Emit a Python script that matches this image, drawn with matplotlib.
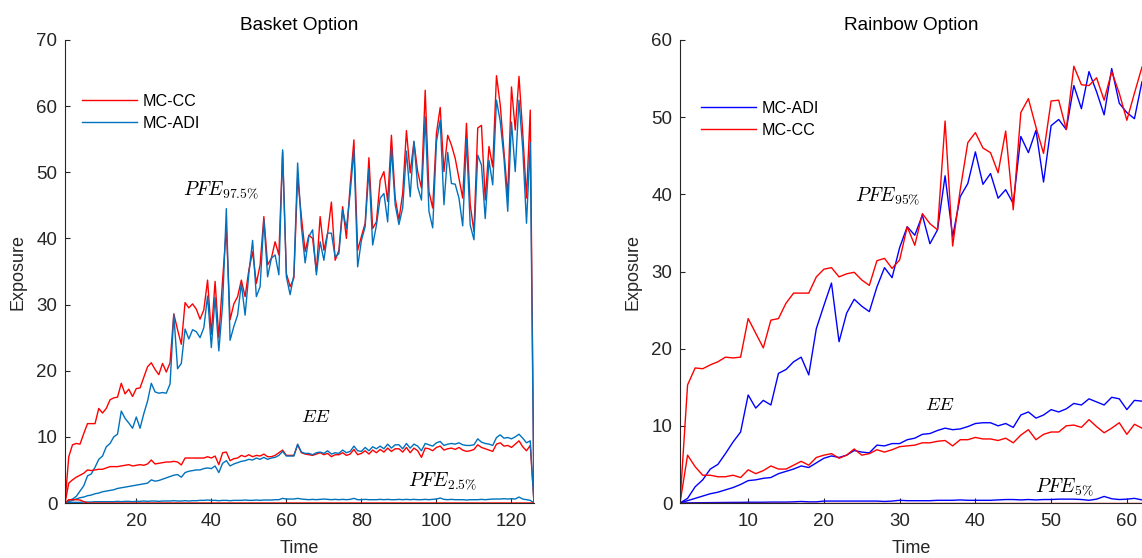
import numpy as np
import matplotlib
matplotlib.use('Agg')
import matplotlib.pyplot as plt

plt.rcParams['font.family'] = ['Liberation Sans', 'DejaVu Sans']
plt.rcParams['mathtext.fontset'] = 'cm'

# ---- Basket option (126 time steps) ----
basket_time = np.arange(1, 127)

basket_pfe_cc = [
    0, 7.0, 8.8, 9.0, 8.9, 10.5, 12.0, 12.0, 12.0, 14.3,
    13.6, 14.3, 15.6, 15.9, 16.0, 18.1, 16.5, 17.2, 16.1, 17.3,
    17.4, 19.0, 20.6, 21.2, 20.2, 19.4, 21.1, 19.8, 21.2, 28.6,
    26.2, 24.0, 30.3, 29.5, 30.1, 29.3, 27.8, 29.2, 33.7, 25.5,
    33.5, 25.0, 33.7, 41.5, 27.7, 30.1, 31.2, 33.7, 31.2, 35.2,
    38.0, 33.2, 36.0, 43.3, 36.0, 37.0, 39.5, 37.5, 53.1, 34.7,
    32.7, 34.0, 49.3, 43.3, 38.0, 40.5, 40.0, 35.0, 43.3, 38.2,
    40.8, 45.5, 36.7, 38.2, 44.8, 40.0, 48.0, 54.9, 38.2, 40.3,
    42.3, 52.2, 41.5, 42.5, 48.8, 50.1, 45.6, 55.6, 46.1, 42.8,
    46.8, 56.3, 49.9, 54.6, 50.1, 47.6, 62.4, 47.1, 44.6, 55.9,
    59.8, 50.1, 55.6, 54.1, 52.1, 49.1, 46.1, 57.4, 45.1, 41.0,
    56.7, 57.1, 45.8, 53.9, 50.8, 64.6, 60.2, 53.1, 46.3, 62.9,
    56.4, 64.5, 55.9, 46.1, 59.4, 0,
]
basket_pfe_adi = [
    0, 0.4, 0.6, 1.0, 1.8, 2.6, 4.1, 4.4, 5.4, 6.6,
    7.1, 8.5, 9.0, 10.0, 10.4, 13.9, 12.8, 12.1, 11.3, 13.0,
    11.3, 13.5, 15.4, 18.1, 16.8, 16.6, 16.7, 16.6, 18.0, 28.5,
    20.3, 21.1, 26.3, 24.8, 26.2, 25.9, 25.0, 26.5, 31.3, 23.5,
    31.1, 23.0, 30.0, 44.5, 24.6, 26.7, 28.4, 33.2, 28.4, 34.7,
    39.7, 31.2, 32.7, 42.8, 34.2, 37.0, 37.5, 34.5, 53.4, 34.2,
    31.5, 34.5, 51.4, 41.8, 36.3, 40.3, 41.3, 34.5, 39.5, 36.7,
    40.8, 40.8, 37.2, 37.7, 44.3, 41.5, 46.8, 53.4, 35.7, 39.7,
    41.8, 50.5, 39.0, 42.0, 46.1, 46.8, 42.5, 53.6, 45.1, 42.1,
    44.6, 53.2, 46.3, 54.7, 47.8, 45.8, 58.4, 44.1, 41.6, 54.6,
    57.9, 45.1, 53.0, 48.3, 48.2, 46.1, 41.9, 55.0, 42.0, 39.8,
    52.6, 51.1, 43.0, 51.8, 48.1, 60.9, 57.7, 52.1, 44.1, 57.6,
    50.1, 60.9, 53.6, 42.3, 54.5, 0,
]
basket_ee_cc = [
    0, 3.0, 3.5, 3.9, 4.2, 4.5, 5.0, 4.9, 5.0, 5.1,
    5.1, 5.3, 5.5, 5.5, 5.5, 5.6, 5.7, 5.8, 5.6, 5.7,
    5.8, 5.7, 5.9, 6.5, 5.9, 6.0, 6.1, 6.2, 6.2, 6.3,
    6.2, 5.75, 6.8, 6.8, 6.8, 6.8, 6.8, 6.8, 7.0, 6.8,
    7.1, 5.8, 7.6, 7.7, 6.4, 6.7, 6.8, 7.2, 7.0, 7.3,
    7.0, 7.2, 7.1, 7.4, 7.0, 7.0, 7.2, 7.6, 8.0, 7.2,
    7.2, 7.2, 8.8, 7.6, 7.4, 7.3, 7.2, 7.4, 7.6, 7.3,
    7.5, 7.0, 7.3, 7.3, 7.6, 7.2, 7.4, 8.1, 7.3, 7.5,
    7.9, 7.4, 8.0, 7.6, 8.1, 7.7, 8.3, 7.8, 8.2, 8.2,
    7.7, 8.4, 7.6, 8.3, 7.9, 6.9, 8.3, 8.2, 7.9, 8.4,
    8.6, 8.0, 8.2, 8.3, 8.1, 8.4, 8.0, 7.8, 7.9, 8.1,
    8.8, 8.4, 8.2, 8.0, 7.8, 8.9, 9.1, 8.6, 8.7, 8.4,
    8.9, 9.4, 8.5, 7.9, 8.7, 0,
]
basket_ee_adi = [
    0, 0.2, 0.4, 0.6, 0.8, 0.9, 1.1, 1.2, 1.4, 1.5,
    1.7, 1.8, 1.9, 2.0, 2.2, 2.3, 2.4, 2.5, 2.6, 2.7,
    2.8, 2.9, 3.0, 3.5, 3.3, 3.4, 3.6, 3.8, 4.0, 4.2,
    4.3, 3.9, 4.6, 4.8, 4.9, 5.0, 5.0, 5.2, 5.3, 5.2,
    5.6, 4.6, 6.0, 6.4, 5.6, 5.9, 6.1, 6.3, 6.4, 6.6,
    6.5, 6.8, 6.6, 6.9, 6.6, 6.8, 6.9, 7.2, 7.8, 7.1,
    7.1, 7.1, 8.9, 7.7, 7.5, 7.5, 7.3, 7.6, 7.7, 7.5,
    7.9, 7.4, 7.6, 7.5, 8.0, 7.6, 7.8, 8.6, 7.9, 7.8,
    8.4, 7.9, 8.5, 8.2, 8.6, 8.2, 8.9, 8.3, 8.8, 8.8,
    8.2, 9.0, 8.3, 8.9, 8.6, 7.9, 9.0, 8.8, 8.6, 9.1,
    9.3, 8.7, 8.9, 9.0, 8.9, 9.1, 8.8, 8.7, 8.7, 8.8,
    9.7, 9.2, 9.0, 8.9, 8.7, 9.9, 10.3, 9.8, 9.9, 9.7,
    10.0, 10.4, 9.8, 9.1, 9.4, 0,
]
basket_low_cc = [
    0, 0.5, 0.5, 0.5, 0.45, 0.2, 0, 0, 0, 0,
    0, 0, 0, 0, 0, 0, 0, 0, 0, 0,
    0, 0, 0, 0, 0, 0, 0, 0, 0, 0,
    0, 0, 0, 0, 0, 0, 0, 0, 0, 0,
    0, 0, 0, 0, 0, 0, 0, 0, 0, 0,
    0, 0, 0, 0, 0, 0, 0, 0, 0, 0,
    0, 0, 0, 0, 0, 0, 0, 0, 0, 0,
    0, 0, 0, 0, 0, 0, 0, 0, 0, 0,
    0, 0, 0, 0, 0, 0, 0, 0, 0, 0,
    0, 0, 0, 0, 0, 0, 0, 0, 0, 0,
    0, 0, 0, 0, 0, 0, 0, 0, 0, 0,
    0, 0, 0, 0, 0, 0, 0, 0, 0, 0,
    0, 0, 0, 0, 0, 0,
]
basket_low_adi = [
    0, 0.05, 0.1, 0.1, 0.1, 0.15, 0.15, 0.15, 0.2, 0.2,
    0.2, 0.2, 0.2, 0.2, 0.25, 0.2, 0.25, 0.25, 0.2, 0.25,
    0.25, 0.3, 0.25, 0.3, 0.3, 0.25, 0.3, 0.3, 0.3, 0.35,
    0.3, 0.3, 0.35, 0.3, 0.35, 0.35, 0.4, 0.4, 0.45, 0.4,
    0.4, 0.35, 0.4, 0.4, 0.35, 0.4, 0.4, 0.4, 0.45, 0.4,
    0.4, 0.45, 0.4, 0.45, 0.45, 0.45, 0.5, 0.5, 0.7, 0.6,
    0.6, 0.6, 0.7, 0.6, 0.55, 0.5, 0.55, 0.5, 0.55, 0.6,
    0.55, 0.5, 0.55, 0.5, 0.55, 0.5, 0.55, 0.7, 0.5, 0.5,
    0.55, 0.5, 0.5, 0.5, 0.55, 0.5, 0.55, 0.5, 0.5, 0.55,
    0.5, 0.55, 0.5, 0.55, 0.5, 0.5, 0.55, 0.5, 0.55, 0.6,
    0.75, 0.55, 0.5, 0.55, 0.5, 0.5, 0.5, 0.45, 0.5, 0.5,
    0.5, 0.55, 0.5, 0.55, 0.6, 0.6, 0.6, 0.65, 0.6, 0.65,
    0.6, 0.9, 0.6, 0.5, 0.4, 0,
]

# ---- Rainbow option (62 time steps visible) ----
rainbow_time = np.arange(1, 63)

rainbow_pfe_adi = [
    0, 0.6, 2.1, 3.0, 4.4, 5.0, 6.4, 7.9, 9.2, 14.0,
    12.3, 13.3, 12.7, 16.8, 17.3, 18.3, 18.9, 16.6, 22.6, 25.6,
    28.5, 20.9, 24.6, 26.4, 25.5, 24.8, 28.0, 30.5, 29.2, 33.1,
    35.8, 34.7, 37.3, 33.6, 35.4, 42.4, 34.5, 39.7, 41.4, 45.5,
    41.3, 42.7, 39.5, 40.6, 38.8, 47.5, 45.4, 48.3, 41.6, 48.9,
    49.7, 48.4, 54.1, 51.1, 55.9, 53.3, 50.3, 56.3, 51.8, 50.6,
    49.8, 54.6,
]
rainbow_pfe_cc = [
    0, 15.3, 17.5, 17.4, 17.9, 18.3, 18.9, 18.8, 18.9, 23.9,
    22.0, 20.1, 23.7, 23.9, 25.9, 27.2, 27.2, 27.2, 29.3, 30.3,
    30.5, 29.3, 29.7, 29.9, 28.9, 28.2, 31.4, 31.7, 30.4, 31.5,
    35.8, 33.4, 37.5, 36.2, 35.4, 49.5, 33.3, 40.6, 46.7, 48.0,
    46.0, 45.4, 42.8, 48.2, 38.0, 50.6, 52.4, 48.7, 45.3, 52.1,
    52.2, 48.4, 56.6, 54.2, 54.1, 55.1, 52.2, 55.9, 53.1, 49.6,
    53.1, 56.5,
]
rainbow_ee_adi = [
    0, 0.3, 0.6, 0.9, 1.2, 1.4, 1.7, 2.0, 2.4, 2.9,
    3.0, 3.2, 3.3, 3.8, 4.1, 4.4, 4.8, 4.6, 5.2, 5.8,
    6.1, 5.9, 6.2, 6.8, 6.6, 6.5, 7.5, 7.4, 7.7, 7.7,
    8.2, 8.4, 8.9, 9.0, 9.4, 9.7, 9.5, 9.6, 9.9, 10.3,
    10.4, 10.4, 10.0, 10.3, 9.8, 11.4, 11.8, 11.0, 11.4, 12.1,
    11.8, 12.2, 12.9, 12.7, 13.5, 13.1, 12.7, 13.7, 13.5, 12.1,
    13.3, 13.2,
]
rainbow_ee_cc = [
    0, 6.2, 4.7, 3.6, 3.6, 3.4, 3.4, 3.6, 3.3, 4.3,
    3.8, 4.2, 4.8, 4.4, 4.4, 4.9, 5.4, 4.9, 5.9, 6.2,
    6.4, 5.8, 6.2, 7.0, 6.2, 6.4, 6.9, 6.6, 6.9, 7.3,
    7.4, 7.5, 7.8, 7.8, 8.0, 8.1, 7.4, 8.2, 8.2, 8.5,
    8.3, 8.3, 8.1, 8.4, 7.8, 8.8, 9.5, 8.2, 8.9, 9.2,
    9.2, 10.0, 10.1, 9.8, 10.8, 9.9, 9.1, 9.7, 10.4, 8.9,
    10.2, 9.7,
]
rainbow_low_adi = [
    0, 0.02, 0.03, 0.04, 0.05, 0.06, 0.07, 0.08, 0.08, 0.1,
    0.1, 0.1, 0.12, 0.12, 0.12, 0.15, 0.2, 0.15, 0.15, 0.25,
    0.25, 0.25, 0.25, 0.25, 0.25, 0.25, 0.25, 0.2, 0.25, 0.35,
    0.3, 0.3, 0.3, 0.3, 0.35, 0.35, 0.35, 0.4, 0.35, 0.35,
    0.35, 0.35, 0.4, 0.45, 0.45, 0.4, 0.45, 0.4, 0.45, 0.45,
    0.5, 0.5, 0.5, 0.45, 0.35, 0.5, 0.85, 0.55, 0.45, 0.5,
    0.6, 0.4,
]
rainbow_low_cc = [
    0, 0, 0, 0, 0, 0, 0, 0, 0, 0,
    0, 0, 0, 0, 0, 0, 0, 0, 0, 0,
    0, 0, 0, 0, 0, 0, 0, 0, 0, 0,
    0, 0, 0, 0, 0, 0, 0, 0, 0, 0,
    0, 0, 0, 0, 0, 0, 0, 0, 0, 0,
    0, 0, 0, 0, 0, 0, 0, 0, 0, 0,
    0, 0,
]

RED = '#FF0000'
MBLUE = '#0072BD'
BLUE = '#0000FF'
GREY = '#262626'
FS = 13.5

fig = plt.figure(figsize=(11.42, 5.58), dpi=100)
ax1 = fig.add_axes([65 / 1142, 55 / 558, 469 / 1142, 463 / 558])
ax2 = fig.add_axes([680 / 1142, 55 / 558, 462 / 1142, 463 / 558])


def style(ax):
    for s in ['top', 'right']:
        ax.spines[s].set_visible(False)
    for s in ['left', 'bottom']:
        ax.spines[s].set_color(GREY)
        ax.spines[s].set_linewidth(0.8)
    ax.tick_params(direction='in', length=3.5, width=0.8, colors=GREY,
                   labelsize=FS, labelcolor=GREY)
    ax.tick_params(axis='x', pad=7)
    ax.tick_params(axis='y', pad=5.5)
    ax.set_xlabel('Time', fontsize=13, color=GREY, labelpad=7.5)
    ax.set_ylabel('Exposure', fontsize=13, color=GREY, labelpad=7)


####Basket
lw = 1.0
l_cc, = ax1.plot(basket_time, basket_pfe_cc, color=RED, lw=lw)
l_adi, = ax1.plot(basket_time, basket_pfe_adi, color=MBLUE, lw=lw)
ax1.plot(basket_time, basket_ee_cc, color=RED, lw=lw)
ax1.plot(basket_time, basket_ee_adi, color=MBLUE, lw=lw)
ax1.plot(basket_time, basket_low_adi, color=MBLUE, lw=lw)
ax1.plot(basket_time, basket_low_cc, color=RED, lw=lw)
ax1.set_xlim(1, 126)
ax1.set_ylim(0, 70)
ax1.set_xticks([20, 40, 60, 80, 100, 120])
ax1.set_yticks(np.arange(0, 71, 10))
ax1.set_title('Basket Option', fontsize=13.7, pad=7)
style(ax1)
ax1.legend([l_cc, l_adi], ['MC-CC', 'MC-ADI'], loc='upper left',
           bbox_to_anchor=(0.005, 0.915), frameon=False, fontsize=11.6,
           handlelength=3.4, handletextpad=0.35, labelspacing=0.45)
ax1.text(32.5, 47.3, r'$PFE_{97.5\%}$', fontsize=14, va='center')
ax1.text(63.8, 13.0, r'$EE$', fontsize=13.5, va='center')
ax1.text(92.5, 3.3, r'$PFE_{2.5\%}$', fontsize=14, va='center')

####Rainbow
r_adi, = ax2.plot(rainbow_time, rainbow_pfe_adi, color=BLUE, lw=lw)
r_cc, = ax2.plot(rainbow_time, rainbow_pfe_cc, color=RED, lw=lw)
ax2.plot(rainbow_time, rainbow_ee_adi, color=BLUE, lw=lw)
ax2.plot(rainbow_time, rainbow_ee_cc, color=RED, lw=lw)
ax2.plot(rainbow_time, rainbow_low_adi, color=BLUE, lw=lw)
ax2.plot(rainbow_time, rainbow_low_cc, color=RED, lw=lw)
ax2.set_xlim(1, 62)
ax2.set_ylim(0, 60)
ax2.set_xticks([10, 20, 30, 40, 50, 60])
ax2.set_yticks(np.arange(0, 61, 10))
ax2.set_title('Rainbow Option', fontsize=13.7, pad=7)
style(ax2)
ax2.legend([r_adi, r_cc], ['MC-ADI', 'MC-CC'], loc='upper left',
           bbox_to_anchor=(0.015, 0.9), frameon=False, fontsize=11.6,
           handlelength=3.4, handletextpad=0.35, labelspacing=0.45)
ax2.text(24.1, 39.8, r'$PFE_{95\%}$', fontsize=14, va='center')
ax2.text(33.3, 12.6, r'$EE$', fontsize=13.5, va='center')
ax2.text(47.9, 2.1, r'$PFE_{5\%}$', fontsize=14, va='center')

fig.savefig('out.png', dpi=100)
